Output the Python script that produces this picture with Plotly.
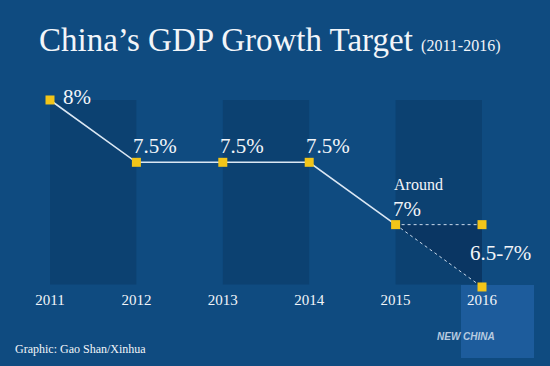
import plotly.graph_objects as go

# ---- data ----
years = [2011, 2012, 2013, 2014, 2015]
targets = [8, 7.5, 7.5, 7.5, 7]
range_year = 2016
range_high = 7
range_low = 6.5
tick_years = [2011, 2012, 2013, 2014, 2015, 2016]
tick_labels = ["2011", "2012", "2013", "2014", "2015", "2016"]
value_labels = ["8%", "7.5%", "7.5%", "7.5%", "7%"]
range_label = "6.5-7%"

BG = "#0f4b80"
BAND = "#0c4171"
TRI = "#0a3663"
YELLOW = "#f2c519"
TXT = "#f2f5f9"
SERIF = "Liberation Serif, Times New Roman, serif"

fig = go.Figure()

# darker alternating bands
band_pairs = [(tick_years[0], tick_years[1]), (tick_years[2], tick_years[3]), (tick_years[4], tick_years[5])]
for a, b in band_pairs:
    fig.add_shape(type="rect", xref="x", yref="y", x0=a, x1=b, y0=6.52, y1=max(targets),
                  fillcolor=BAND, line_width=0, layer="below")

# shaded range triangle
fig.add_trace(go.Scatter(x=[years[-1], range_year, range_year, years[-1]],
                         y=[targets[-1], range_high, range_low, targets[-1]],
                         fill="toself", fillcolor=TRI, mode="lines", line=dict(width=0),
                         hoverinfo="skip", showlegend=False))
# dashed range lines
fig.add_trace(go.Scatter(x=[years[-1], range_year], y=[targets[-1], range_high], mode="lines",
                         line=dict(color="#c9d9ea", width=1, dash="3px,3px"), hoverinfo="skip", showlegend=False))
fig.add_trace(go.Scatter(x=[years[-1], range_year], y=[targets[-1], range_low], mode="lines",
                         line=dict(color="#c9d9ea", width=1, dash="3px,3px"), hoverinfo="skip", showlegend=False))
# main line
fig.add_trace(go.Scatter(x=years, y=targets, mode="lines", line=dict(color="#dbe7f3", width=1.6),
                         hoverinfo="skip", showlegend=False))
# markers
fig.add_trace(go.Scatter(x=years + [range_year, range_year], y=targets + [range_high, range_low], mode="markers",
                         marker=dict(symbol="square", size=9, color=YELLOW, line=dict(width=0)),
                         cliponaxis=False, hoverinfo="skip", showlegend=False))

# value labels
for i, (x, y, t) in enumerate(zip(years, targets, value_labels)):
    if i == 0:
        fig.add_annotation(x=x, y=y, text=t, showarrow=False, xanchor="left", yanchor="middle",
                           xshift=11, yshift=3, font=dict(family=SERIF, size=21, color=TXT))
    else:
        fig.add_annotation(x=x, y=y, text=t, showarrow=False, xanchor="left", yanchor="middle",
                           xshift=-5, yshift=16, font=dict(family=SERIF, size=21, color=TXT))
fig.add_annotation(x=years[-1], y=targets[-1], text="Around", showarrow=False, xanchor="left", yanchor="middle",
                   xshift=-4, yshift=40, font=dict(family=SERIF, size=16, color=TXT))
fig.add_annotation(x=range_year, y=(range_high + range_low) / 2, text=range_label, showarrow=False,
                   xanchor="center", yanchor="middle", xshift=18, yshift=3,
                   font=dict(family=SERIF, size=21, color=TXT))

# title
fig.add_annotation(xref="paper", yref="paper", x=37 / 550, y=1 - 40 / 366, xanchor="left", yanchor="middle",
                   text="China\u2019s GDP Growth Target <span style='font-size:16px'>(2011-2016)</span>",
                   showarrow=False, font=dict(family=SERIF, size=33, color=TXT))
# footer
fig.add_annotation(xref="paper", yref="paper", x=13 / 550, y=1 - 349 / 366, xanchor="left", yanchor="middle",
                   text="Graphic: Gao Shan/Xinhua", showarrow=False,
                   font=dict(family=SERIF, size=12, color=TXT))

# watermark logo box
fig.add_shape(type="rect", xref="paper", yref="paper", x0=461 / 550, x1=534 / 550,
              y0=1 - 358 / 366, y1=1 - 285 / 366, fillcolor="#1d5c9c", line_width=0, layer="below")
fig.add_annotation(xref="paper", yref="paper", x=497 / 550, y=1 - 344 / 366, text="<b><i>NEW CHINA</i></b>",
                   showarrow=False, font=dict(family="Liberation Sans, Arial", size=10, color="#b7cbe0"))

fig.update_layout(
    width=550, height=366, margin=dict(l=0, r=0, t=0, b=0),
    paper_bgcolor=BG, plot_bgcolor=BG, showlegend=False,
    xaxis=dict(range=[2010.4213, 2016.787], showgrid=False, zeroline=False, showline=False,
               tickmode="array", tickvals=tick_years, ticktext=tick_labels, ticks="",
               tickfont=dict(family=SERIF, size=15, color=TXT),
               anchor="free", position=1 - 289 / 366),
    yaxis=dict(range=[5.866, 8.802], visible=False, showgrid=False, zeroline=False),
)

fig.write_html("out.html", config={"displayModeBar": False},
               post_script="document.body.style.margin='0';document.body.style.overflow='hidden';")
